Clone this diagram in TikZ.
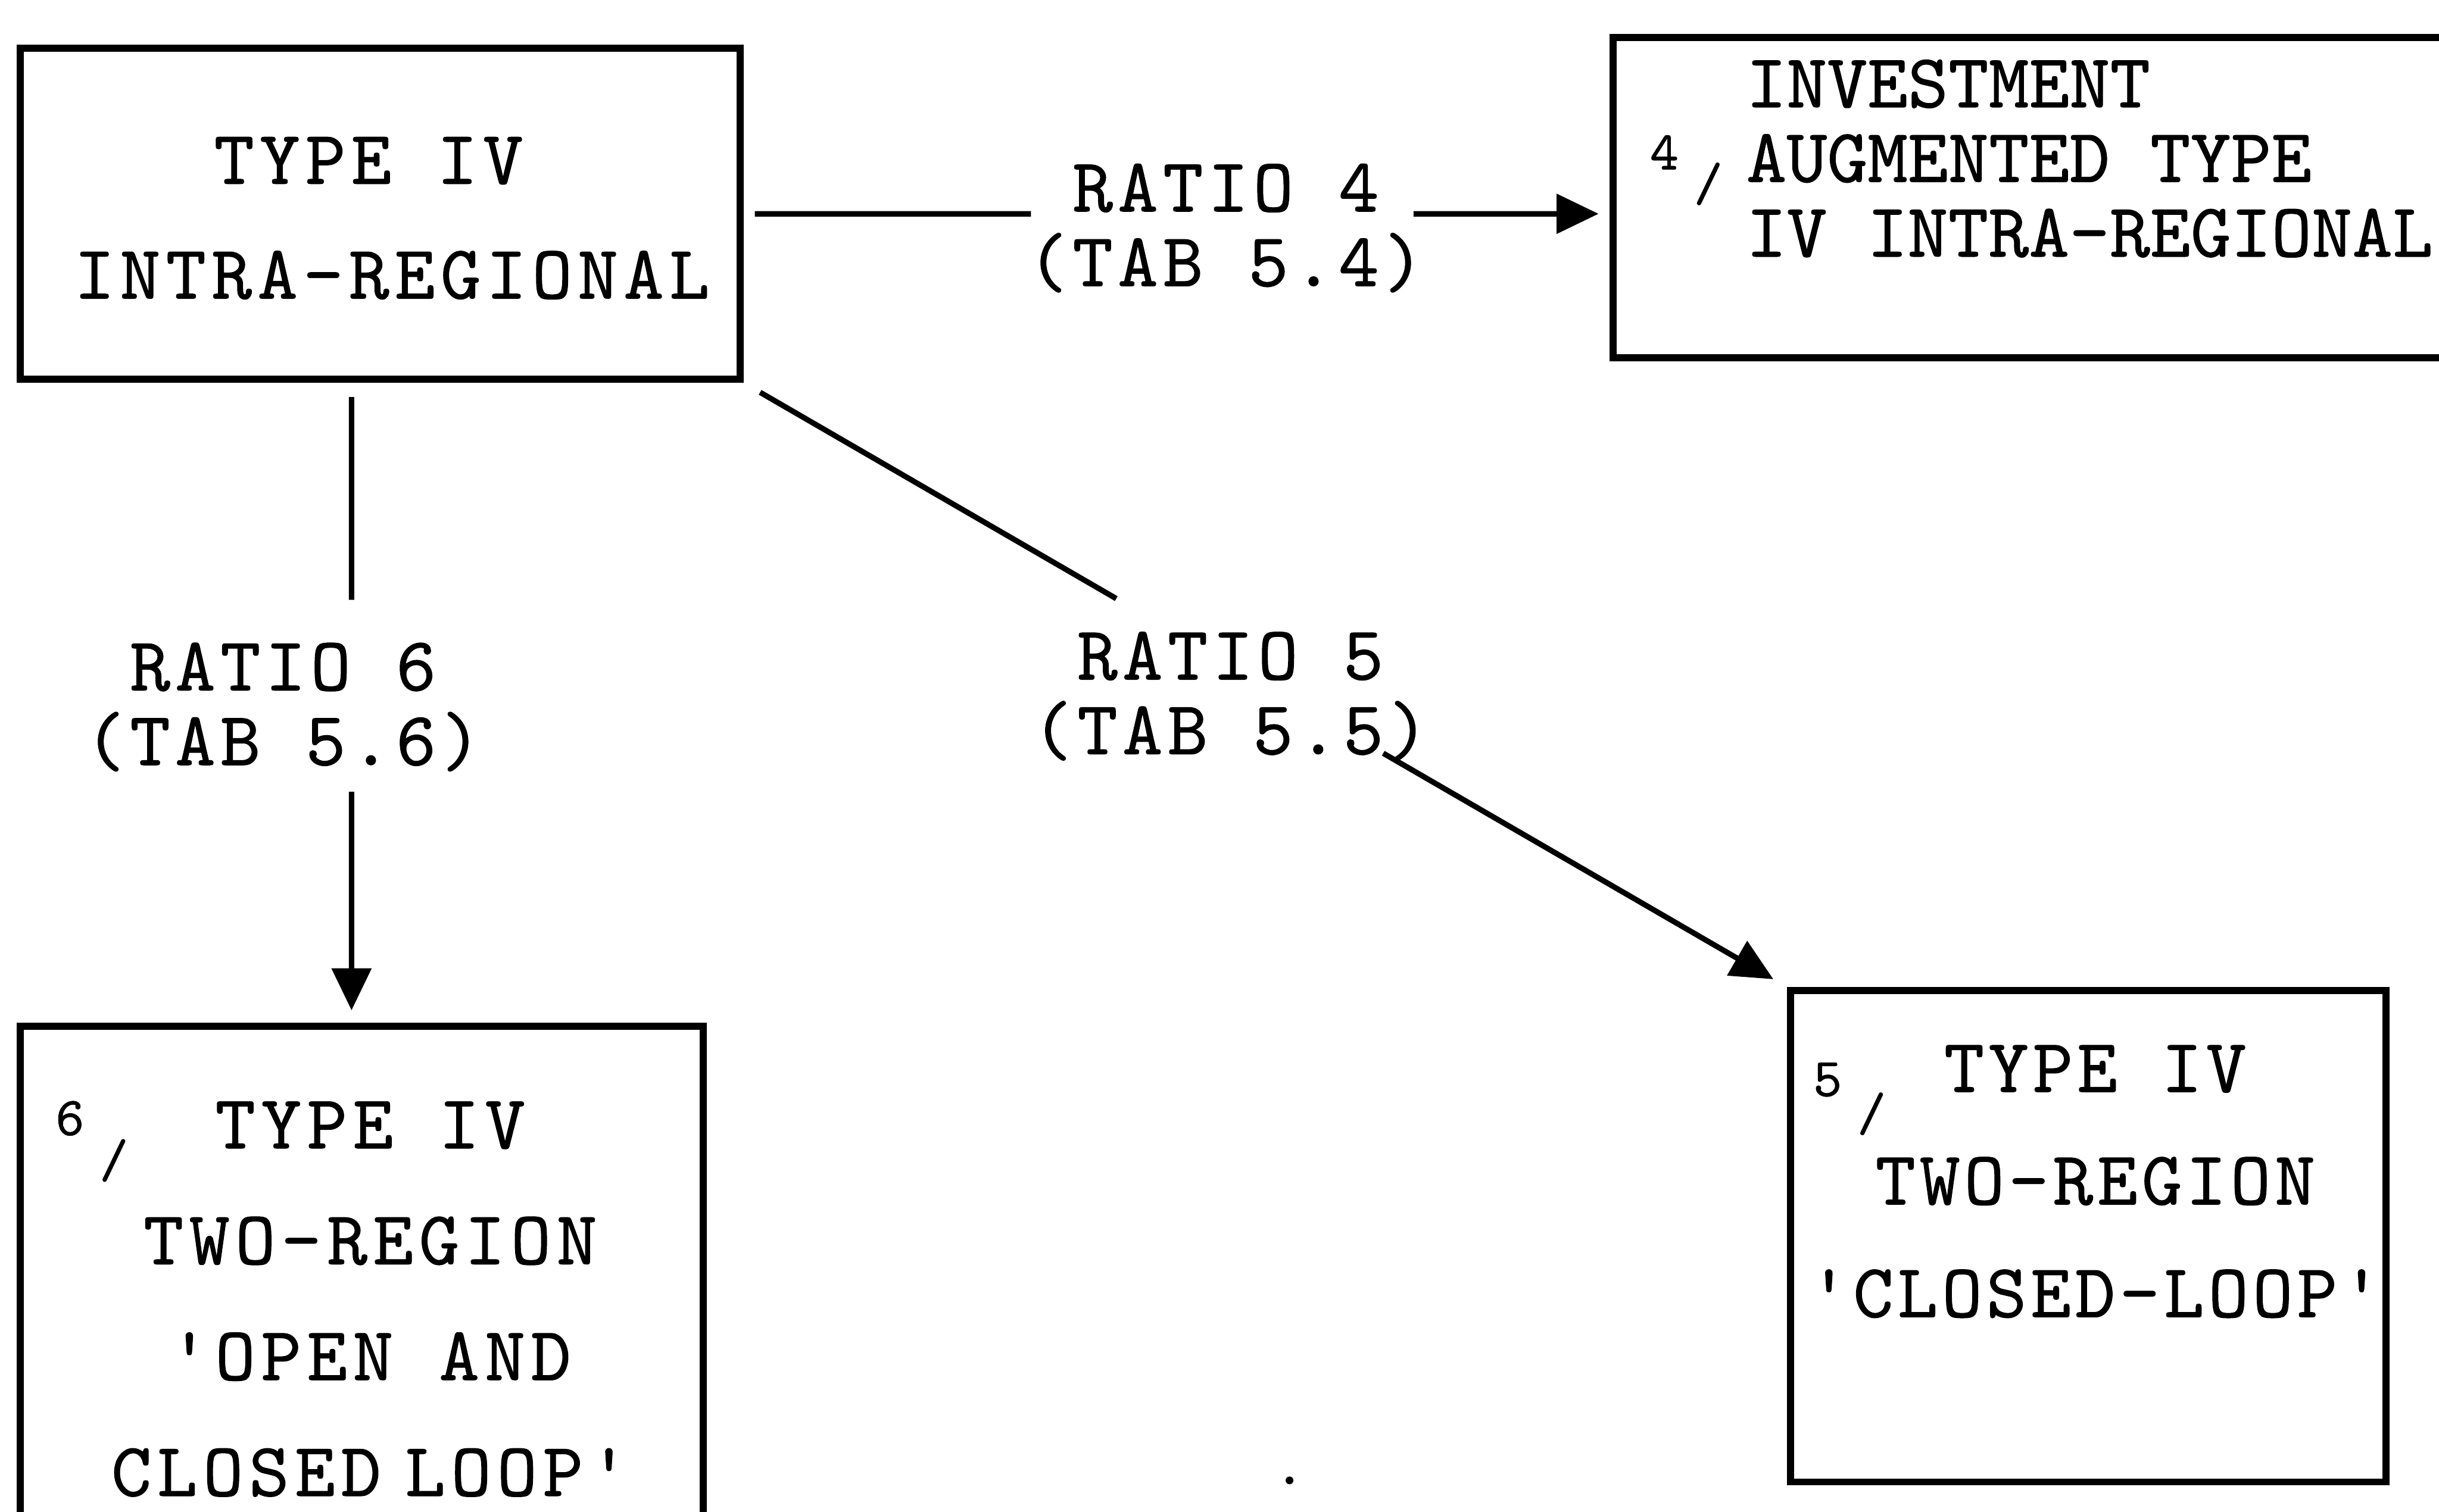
\documentclass[tikz,border=0pt]{standalone}
\usepackage{fontspec}
\usetikzlibrary{arrows.meta,calc}
% typewriter face used for every text; #3 is the extra letter spacing
\newfontfamily\tyface{lmmono10-regular.otf}[FakeBold=0.8]
\newcommand\tyfont[3]{\fontsize{#1}{#2}\tyface\addfontfeatures{LetterSpace=#3}}
% raised number followed by a slash, as in "4/"
\newcommand\marknum[2]{\raisebox{#2}{#1}\hspace{2.8pt}/}
\begin{document}
\begin{tikzpicture}[
  box/.style={draw, line width=1.3pt, inner sep=0pt},
  boxtext/.style={inner sep=0pt, align=center},
  numtext/.style={inner sep=0pt, font=\tyfont{10pt}{12pt}{0}},
  lab/.style={inner sep=0pt, align=center, anchor=base, font=\tyfont{14pt}{13.66pt}{6.5}},
  conn/.style={line width=1pt, -{Triangle[length=0.27cm,width=0.25cm]}},
  plain/.style={line width=1pt}
]
\useasboundingbox (0,0) rectangle (15.68,9.72);

% boxes
\node[box, minimum width=4.63cm, minimum height=2.13cm] (A)  at (2.445,8.345) {};
\node[box, minimum width=5.63cm, minimum height=2.06cm] (B)  at (13.185,8.45) {};
\node[box, minimum width=4.39cm, minimum height=3.50cm] (C6) at (2.325,1.37) {};
\node[box, minimum width=3.83cm, minimum height=3.16cm] (C5) at (13.425,1.77) {};

% box texts (anchored on the baseline of their last line)
\node[boxtext, anchor=base, font=\tyfont{14pt}{21pt}{7.3}] (tA) at (2.52,7.80)
  {TYPE IV\hspace*{0.3cm}\\INTRA-REGIONAL};
\node[boxtext, align=left, anchor=base west, font=\tyfont{14pt}{13.66pt}{0.3}] (tB) at (11.22,8.07)
  {INVESTMENT\\AUGMENTED TYPE\\IV INTRA-REGIONAL};
\node[boxtext, anchor=base, font=\tyfont{14pt}{21.2pt}{7.5}] (t6) at (2.38,0.10)
  {TYPE IV\\TWO-REGION\\'OPEN AND\\CLOSED\hspace{-4pt} LOOP'};
\node[boxtext, anchor=base, font=\tyfont{14pt}{20.6pt}{5.5}] (t5) at (13.47,1.25)
  {TYPE IV\\TWO-REGION\\'CLOSED-LOOP'};

% numbering marks
\node[numtext, anchor=base west] (n4) at (10.60,8.43) {\marknum{4}{5.7pt}};
\node[numtext, anchor=base west] (n6) at (0.35,2.15) {\marknum{6}{7.7pt}};
\node[numtext, anchor=base west] (n5) at (11.65,2.45) {\marknum{5}{6.3pt}};

% connector labels
\node[lab] (l4) at (7.88,7.88) {RATIO 4\\(TAB 5.4)};
\node[lab] (l6) at (1.82,4.80) {RATIO 6\\(TAB 5.6)};
\node[lab] (l5) at (7.91,4.87) {RATIO 5\\(TAB 5.5)};

% connectors, each broken where its label sits
\coordinate (v6) at (2.26,5);
\draw[plain, shorten <=0.07cm] (A.east) -- ($(A.east)!0.3316!(A.east -| B.west)$);
\draw[conn, shorten >=0.07cm] ($(A.east)!0.7736!(A.east -| B.west)$) -- (A.east -| B.west);
\draw[plain, shorten <=0.09cm] (A.south -| v6) -- ($(A.south -| v6)!0.339!(C6.north -| v6)$);
\draw[conn, shorten >=0.08cm] ($(A.south -| v6)!0.639!(C6.north -| v6)$) -- (C6.north -| v6);
\draw[plain, shorten <=0.12cm] (A.south east) -- ($(A.south east)!0.357!(C5.north west)$);
\draw[conn, shorten >=0.10cm] ($(A.south east)!0.613!(C5.north west)$) -- (C5.north west);

% speck
\fill (8.29,0.20) circle (0.025);
\end{tikzpicture}
\end{document}
